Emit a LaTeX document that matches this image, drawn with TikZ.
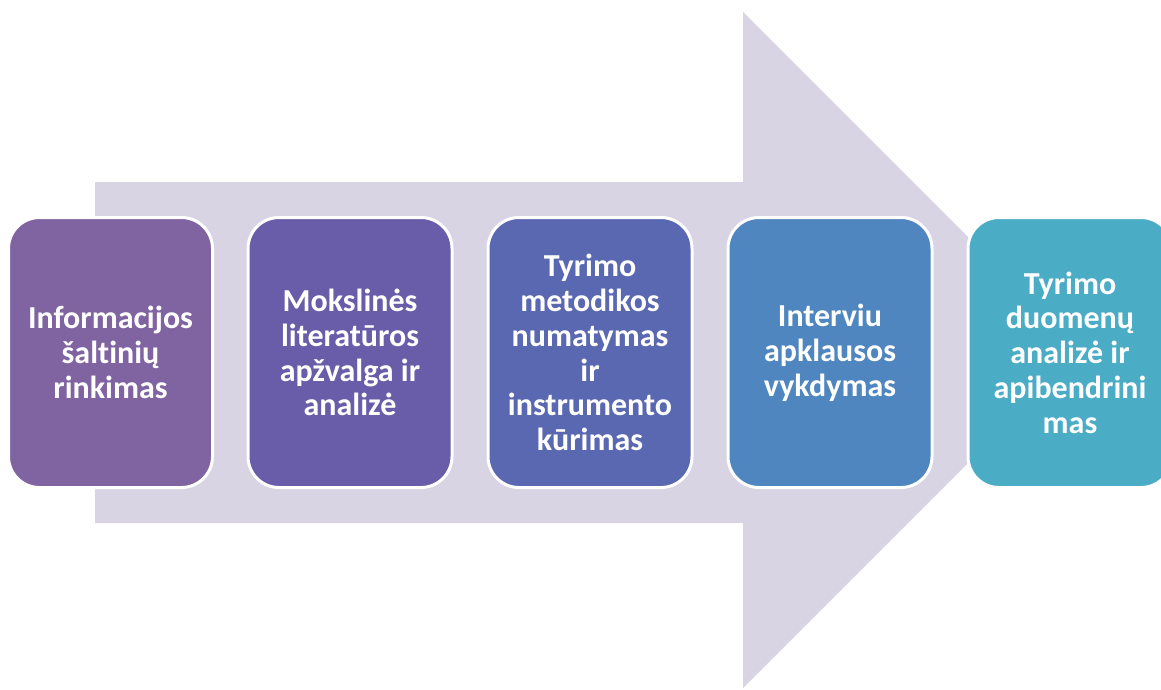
\documentclass[tikz,border=0pt]{standalone}
\usepackage{fontspec}
\setmainfont[Ligatures=NoCommon]{Carlito}
\definecolor{arrowbg}{HTML}{D8D4E3}
\definecolor{stepA}{HTML}{8064A2}
\definecolor{stepB}{HTML}{695DA9}
\definecolor{stepC}{HTML}{5A68B2}
\definecolor{stepD}{HTML}{4F86BF}
\definecolor{stepE}{HTML}{4BACC6}
\begin{document}
\begin{tikzpicture}[x=1pt,y=-1pt,
        stage/.style={rectangle, rounded corners=31pt, draw=white, line width=3pt,
            minimum width=204pt, minimum height=270pt, text=white, align=center,
            font=\fontsize{32}{34.8}\selectfont\bfseries}]
            \useasboundingbox (0,0) rectangle (1161,689);
            % big arrow behind the stages
            \fill[arrowbg] (95,182) -- (743,182) -- (743,12) -- (1081,350) -- (743,688) -- (743,523) -- (95,523) -- cycle;

            \node[stage, fill=stepA] (info) at (110.5,352.5) {Informacijos\\šaltinių\\rinkimas};
            \node[stage, fill=stepB] (lit) at (350,352.5) {Mokslinės\\literatūros\\apžvalga ir\\analizė};
            \node[stage, fill=stepC] (metod) at (590,352.5) {Tyrimo\\metodikos\\numatymas\\ir\\instrumento\\kūrimas};
            \node[stage, fill=stepD] (interv) at (830,352.5) {Interviu\\apklausos\\vykdymas};
            \node[stage, fill=stepE] (duom) at (1070,352.5) {Tyrimo\\duomenų\\analizė ir\\apibendrini\\mas};
        \end{tikzpicture}
\end{document}
